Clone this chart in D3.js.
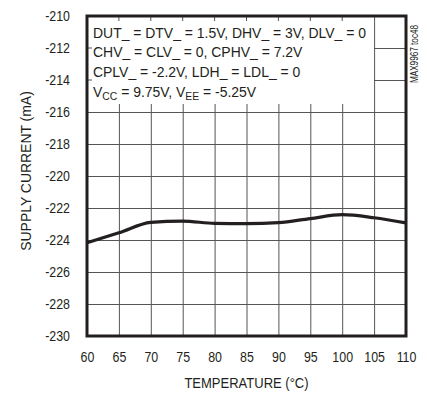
<!DOCTYPE html>
<html>
<head>
<meta charset="utf-8">
<script src="https://cdn.jsdelivr.net/npm/d3@7"></script>
<style>
  html, body { margin: 0; padding: 0; background: #fff; }
  svg text { font-family: "Liberation Sans", Arial, sans-serif; fill: #231f20; }
</style>
</head>
<body>
<svg id="chart" width="427" height="394"></svg>
<script>
// ---- data ----
const temperatures = [60, 65, 70, 75, 80, 85, 90, 95, 100, 105, 110];
const supplyCurrent = [-224.17, -223.55, -222.9, -222.82, -222.96, -222.98, -222.92, -222.66, -222.42, -222.61, -222.93];
const xTickValues = [60, 65, 70, 75, 80, 85, 90, 95, 100, 105, 110];
const yTickValues = [-230, -228, -226, -224, -222, -220, -218, -216, -214, -212, -210];
const xTitle = "TEMPERATURE (°C)";
const yTitle = "SUPPLY CURRENT (mA)";
const chartId = "MAX9967 toc48";

// ---- layout ----
const L = 87, T = 16, R = 406, B = 336;
const W = R - L, H = B - T;
const svg = d3.select("#chart");
const ink = "#231f20";
const grid = "#555";
const FS = 15.5;

const x = d3.scaleLinear().domain([60, 110]).range([L, R]);
const y = d3.scaleLinear().domain([-230, -210]).range([B, T]);

// gridlines
const gx = svg.append("g").attr("transform", `translate(0,${B})`)
  .call(d3.axisBottom(x).tickValues(xTickValues).tickSize(-H).tickFormat(""));
gx.select(".domain").remove();
gx.selectAll("line").attr("stroke", grid).attr("stroke-width", 1);

const gy = svg.append("g").attr("transform", `translate(${L},0)`)
  .call(d3.axisLeft(y).tickValues(yTickValues).tickSize(-W).tickFormat(""));
gy.select(".domain").remove();
gy.selectAll("line").attr("stroke", grid).attr("stroke-width", 1);

// annotation box (white background covering grid)
const boxRight = 374, boxBottom = 104;
svg.append("rect").attr("x", L).attr("y", T).attr("width", boxRight - L).attr("height", boxBottom - T).attr("fill", "#fff");

// inward tick marks along top and left edges inside the box
const tk = 5;
svg.append("g").selectAll("line").data(xTickValues.filter(v => x(v) < boxRight && v > 60)).join("line")
  .attr("x1", d => x(d)).attr("x2", d => x(d)).attr("y1", T).attr("y2", T + tk)
  .attr("stroke", grid).attr("stroke-width", 1);
svg.append("g").selectAll("line").data(yTickValues.filter(v => y(v) < boxBottom && v < -210)).join("line")
  .attr("x1", L).attr("x2", L + tk).attr("y1", d => y(d)).attr("y2", d => y(d))
  .attr("stroke", grid).attr("stroke-width", 1);

// annotation text
const annSx = 0.9;
const ann = svg.append("g").attr("font-size", FS);
const lines = [
  "DUT_ = DTV_ = 1.5V, DHV_ = 3V, DLV_ = 0",
  "CHV_ = CLV_ = 0, CPHV_ = 7.2V",
  "CPLV_ = -2.2V, LDH_ = LDL_ = 0"
];
const baselines = [37.5, 57, 77, 96.5];
lines.forEach((t, i) => {
  ann.append("text").attr("transform", `translate(93,${baselines[i]}) scale(${annSx},1)`).text(t);
});
const l4 = ann.append("text").attr("transform", `translate(93,${baselines[3]}) scale(${annSx},1)`);
l4.append("tspan").text("V");
l4.append("tspan").attr("font-size", 11.5).attr("dy", 3).text("CC");
l4.append("tspan").attr("dy", -3).text(" = 9.75V, V");
l4.append("tspan").attr("font-size", 11.5).attr("dy", 3).text("EE");
l4.append("tspan").attr("dy", -3).text(" = -5.25V");

// curve
const line = d3.line().x((d, i) => x(temperatures[i])).y(d => y(d)).curve(d3.curveMonotoneX);
svg.append("path").datum(supplyCurrent).attr("d", line)
  .attr("fill", "none").attr("stroke", ink).attr("stroke-width", 3.2).attr("stroke-linejoin", "round");

// frame
svg.append("rect").attr("x", L).attr("y", T).attr("width", W).attr("height", H)
  .attr("fill", "none").attr("stroke", ink).attr("stroke-width", 3);

// tick labels
const tickSx = 0.8;
const xa = svg.append("g").attr("transform", `translate(0,${B})`)
  .call(d3.axisBottom(x).tickValues(xTickValues).tickSize(0).tickPadding(15).tickFormat(d3.format("d")));
xa.select(".domain").remove();
xa.selectAll("text").attr("font-size", FS).attr("font-family", null).attr("fill", ink)
  .attr("transform", `scale(${tickSx},1)`);

const yPad = 17;
const ya = svg.append("g").attr("transform", `translate(${L},0)`)
  .call(d3.axisLeft(y).tickValues(yTickValues).tickSize(0).tickFormat(d => String(d)));
ya.select(".domain").remove();
ya.selectAll("text").attr("font-size", FS).attr("font-family", null).attr("fill", ink)
  .attr("x", -yPad / tickSx).attr("transform", `scale(${tickSx},1)`);

// axis titles
svg.append("text").attr("transform", `translate(${(L + R) / 2},388) scale(0.84,1)`).attr("text-anchor", "middle")
  .attr("font-size", FS).text(xTitle);
svg.append("text").attr("transform", `translate(31,171) rotate(-90) scale(0.9,1)`)
  .attr("text-anchor", "middle").attr("font-size", FS).text(yTitle);

// chart id
svg.append("text").attr("transform", `translate(418,54) rotate(-90) scale(0.82,1)`)
  .attr("text-anchor", "middle").attr("font-size", 10).text(chartId);
</script>
</body>
</html>
